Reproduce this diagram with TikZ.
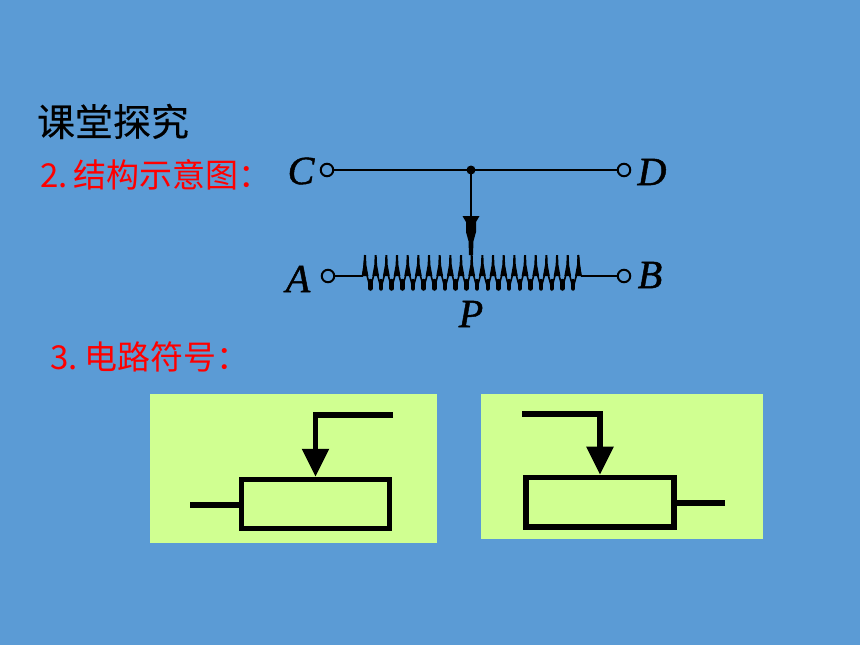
\documentclass[tikz,border=0pt]{standalone}
\usepackage{fontspec}
\setmainfont{Liberation Serif}
\newfontfamily\cjk{Noto Sans CJK SC}
\usetikzlibrary{arrows.meta}
\definecolor{slidebg}{RGB}{91,155,213}
\definecolor{panelgreen}{RGB}{208,255,145}
\tikzset{
  heading/.style={anchor=base west, inner sep=0pt, font=\cjk\fontsize{38}{38}\selectfont\addfontfeature{FakeBold=0.2}},
  redtext/.style={anchor=base west, inner sep=0pt, text=red, font=\cjk\fontsize{33}{33}\selectfont},
  terminal/.style={circle, draw, line width=2pt, minimum size=12.5pt, inner sep=0pt},
  letter/.style={inner sep=0pt, font=\fontsize{40}{40}\selectfont\itshape\addfontfeature{FakeBold=1.2}},
  panel/.style={fill=panelgreen, draw=none, inner sep=0pt},
  resistor/.style={draw=black, line width=5.5pt, inner sep=0pt},
  symline/.style={line width=5.5pt},
  wiper/.style={line width=5.5pt, -{Triangle[length=28pt,width=26pt]}}
}
\begin{document}
\begin{tikzpicture}[x=1pt, y=-1pt, line width=2pt]
\useasboundingbox[fill=slidebg] (0,0) rectangle (860,645);

\node[heading] (title) at (36,136) {课堂探究};
\node[redtext] (struct) at (39.5,187) {\makebox[33pt][l]{2.}结构示意图：};
\node[redtext] (symbol) at (49.5,369) {\makebox[34pt][l]{3.}电路符号：};

% top diagram
\node[terminal] (C) at (327,170) {};
\node[terminal] (D) at (624,170) {};
\node[terminal] (A) at (328,276) {};
\node[terminal] (B) at (624,276) {};
\node[letter] (labelC) at (301,171) {C};
\node[letter] (labelD) at (652,172) {D};
\node[letter] (labelA) at (298,279) {A};
\node[letter] (labelB) at (650,275) {B};
\node[letter] (labelP) at (471,314) {P};

\draw (C) -- (D);
\fill (471,170) circle (4.5) coordinate (joint);

\coordinate (coilL) at (363,276);
\coordinate (coilR) at (581,276);
\draw (A) -- (coilL);
\draw (coilR) -- (B);
\draw (joint) -- (471,218);
\fill (462.5,216) -- (479.5,216) -- (476,222) -- (476,232) -- (473.5,241) -- (473,255) -- (469,255) -- (468.5,241) -- (466,232) -- (466,222) -- cycle;

% coil
\draw[line width=1.5pt] (coilL) -- (365,255);
\foreach \i in {0,...,20}{
  \pgfmathsetmacro{\xt}{365+10.67*\i}
  \pgfmathsetmacro{\xb}{\xt+5.33}
  \fill (\xt-1,255) -- (\xt+1,255) -- (\xt+1.4,265) -- (\xt+3.4,276) -- (\xt-3.4,276) -- (\xt-1.4,265) -- cycle;
  \ifnum\i<20
    \draw[line width=1.6pt] (\xt,268) -- (\xb,288) -- (\xt+10.67,268);
    \draw[line width=4.4pt, line cap=round] (\xb,281) -- (\xb,288.5);
  \fi
}
\draw[line width=1.5pt] (578,255) -- (coilR);

% left symbol
\node[panel, minimum width=287pt, minimum height=149pt] (panelL) at (293.5,468.5) {};
\node[resistor, minimum width=148pt, minimum height=49pt] (resL) at (315.5,504) {};
\coordinate (leadL) at (190,505);
\coordinate (wipeL) at (393,415);
\draw[symline] (leadL) -- (resL.west |- leadL);
\draw[wiper] (wipeL) -| (resL.north);

% right symbol
\node[panel, minimum width=282pt, minimum height=145pt] (panelR) at (622,466.5) {};
\node[resistor, minimum width=148pt, minimum height=49.5pt] (resR) at (600,502.2) {};
\coordinate (leadR) at (725,503);
\coordinate (wipeR) at (522,414);
\draw[symline] (leadR) -- (resR.east |- leadR);
\draw[wiper] (wipeR) -| (resR.north);
\end{tikzpicture}
\end{document}
